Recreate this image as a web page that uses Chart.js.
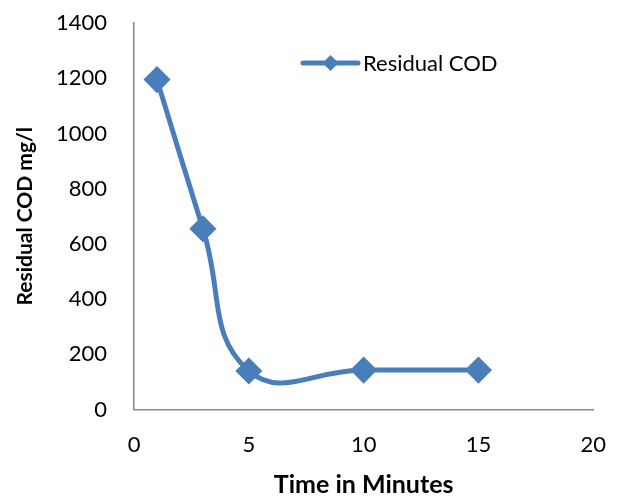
<!DOCTYPE html>
<html>
<head>
<meta charset="utf-8">
<script src="https://cdn.jsdelivr.net/npm/chart.js@4.4.1/dist/chart.umd.min.js"></script>
<style>
  html, body { margin: 0; padding: 0; background: #fff; }
  #wrap { width: 620px; height: 497px; }
</style>
</head>
<body>
<div id="wrap"><canvas id="cod"></canvas></div>
<script>
const minutes = [1, 3, 5, 10, 15];
const residualCod = [1195, 655, 140, 143, 143];
const seriesLabel = "Residual COD";
const xTitle = "Time in Minutes";
const yTitle = "Residual COD mg/l";

const blue = "#4a7ebb";
const fontFamily = "Lato, 'Open Sans', sans-serif";

// legend drawn inside the plot, Excel style (line with a diamond)
const insideLegend = {
  id: "insideLegend",
  afterDraw(chart) {
    const ctx = chart.ctx;
    const x0 = 303, x1 = 358, y = 63;
    ctx.save();
    ctx.strokeStyle = blue;
    ctx.lineWidth = 5;
    ctx.lineCap = "round";
    ctx.beginPath();
    ctx.moveTo(x0, y);
    ctx.lineTo(x1, y);
    ctx.stroke();
    const cx = (x0 + x1) / 2;
    ctx.fillStyle = blue;
    ctx.beginPath();
    ctx.moveTo(cx, y - 8);
    ctx.lineTo(cx + 8, y);
    ctx.lineTo(cx, y + 8);
    ctx.lineTo(cx - 8, y);
    ctx.closePath();
    ctx.fill();
    ctx.fillStyle = "#000";
    ctx.font = "22px " + fontFamily;
    ctx.textBaseline = "middle";
    ctx.fillText(chart.data.datasets[0].label, x1 + 5, y + 1);
    ctx.restore();
  },
};

const ctx = document.getElementById("cod").getContext("2d");
new Chart(ctx, {
  type: "line",
  data: {
    datasets: [
      {
        label: seriesLabel,
        data: minutes.map((m, i) => ({ x: m, y: residualCod[i] })),
        borderColor: blue,
        backgroundColor: blue,
        borderWidth: 5,
        tension: 0.45,
        pointStyle: "rectRot",
        pointRadius: 10,
        pointHoverRadius: 10,
      },
    ],
  },
  options: {
    responsive: true,
    maintainAspectRatio: false,
    animation: false,
    layout: { padding: { top: 23, right: 13, left: 15, bottom: 0 } },
    plugins: {
      legend: { display: false },
      tooltip: { enabled: false },
    },
    scales: {
      x: {
        type: "linear",
        min: 0,
        max: 20,
        ticks: { stepSize: 5, color: "#000", font: { family: fontFamily, size: 22 }, padding: 14 },
        grid: { display: false },
        border: { color: "#888", width: 1.5 },
        title: {
          display: true,
          text: xTitle,
          color: "#000",
          font: { family: fontFamily, size: 25, weight: "bold", lineHeight: 1 },
          padding: { top: 0, bottom: 0 },
        },
      },
      y: {
        min: 0,
        max: 1400,
        ticks: {
          stepSize: 200,
          color: "#000",
          font: { family: fontFamily, size: 22 },
          padding: 5,
          callback: (v) => String(v),
        },
        grid: { display: false, tickLength: 22 },
        border: { color: "#888", width: 1.5 },
        title: {
          display: true,
          text: yTitle,
          color: "#000",
          font: { family: fontFamily, size: 21, weight: "bold", lineHeight: 1 },
          padding: { top: 0, bottom: 15 },
        },
      },
    },
  },
  plugins: [insideLegend],
});
</script>
</body>
</html>
